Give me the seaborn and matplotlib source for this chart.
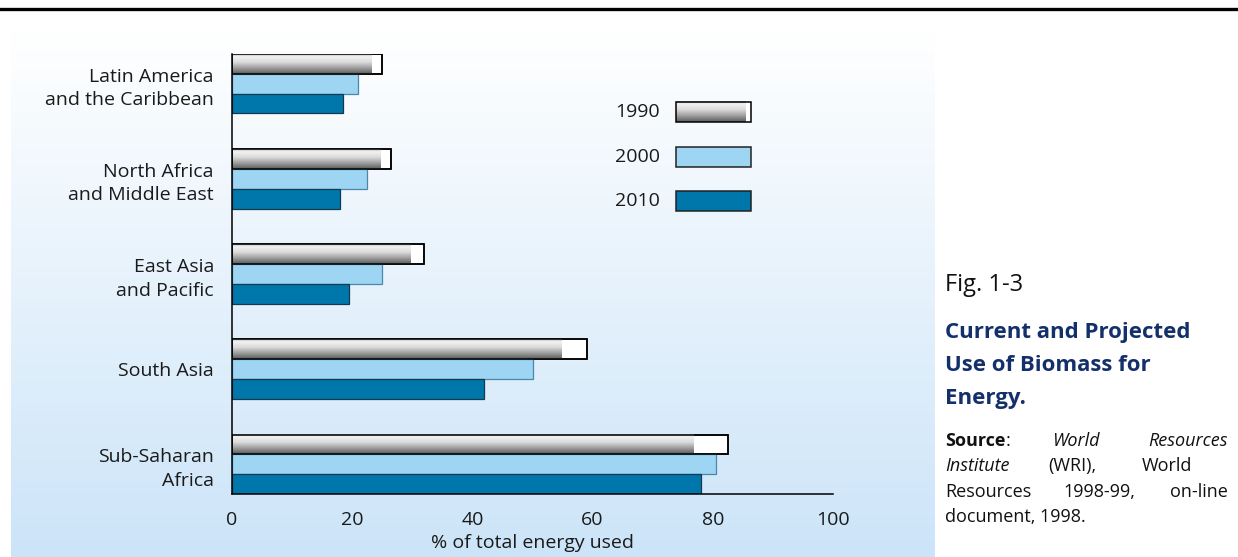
import numpy as np
import pandas as pd
import matplotlib
matplotlib.use("Agg")
import matplotlib.pyplot as plt
from matplotlib.patches import Rectangle
from matplotlib.lines import Line2D
import seaborn as sns

# Share of total energy supplied by biomass, by region and year (%)
regions = [
    "Latin America\nand the Caribbean",
    "North Africa\nand Middle East",
    "East Asia\nand Pacific",
    "South Asia",
    "Sub-Saharan\nAfrica",
]
years = ["1990", "2000", "2010"]
share_1990 = [25, 26.5, 32, 59, 82.5]
share_2000 = [21, 22.5, 25, 50, 80.5]
share_2010 = [18.5, 18, 19.5, 42, 78]
x_ticks = [0, 20, 40, 60, 80, 100]
x_label = "% of total energy used"

fig_label = "Fig. 1-3"
title_lines = ["Current and Projected", "Use of Biomass for", "Energy."]

df = pd.DataFrame({
    "region": regions * 3,
    "year": [y for y in years for _ in regions],
    "share": share_1990 + share_2000 + share_2010,
})

sns.set_theme(style="white")
plt.rcParams["font.family"] = ["Open Sans", "DejaVu Sans"]

W, H = 1238, 557
fig = plt.figure(figsize=(W / 100, H / 100), dpi=100)
fig.patch.set_facecolor("white")

# soft white-to-blue backdrop behind the chart
bg = fig.add_axes([11 / W, 0, 923 / W, 527 / H], zorder=-5)
grad = np.linspace(0, 1, 256)[:, None]
top_c = np.array([1.0, 1.0, 1.0])
bot_c = np.array([0.80, 0.895, 0.975])
bg_img = top_c[None, None, :] * (1 - grad[..., None]) + bot_c[None, None, :] * grad[..., None]
bg.imshow(bg_img, aspect="auto", extent=(0, 1, 0, 1), origin="upper")
bg.set_axis_off()

# heavy rule across the top of the page
fig.add_artist(Line2D([0, 1], [1 - 9 / H, 1 - 9 / H], color="black", lw=2.4,
                      transform=fig.transFigure))

ax = fig.add_axes([232 / W, 1 - 494 / H, 601 / W, 440 / H])
ax.set_facecolor("none")

palette = {"1990": "white", "2000": "#9dd5f2", "2010": "#0077aa"}
sns.barplot(data=df, x="share", y="region", hue="year", hue_order=years,
            order=regions, orient="h", palette=palette, width=0.625,
            gap=0, saturation=1, legend=False, ax=ax, linewidth=1.0)

edge_cols = {"1990": "black", "2000": "#4d86ad", "2010": "#143a52"}
for cont, yr in zip(ax.containers, years):
    for p in cont:
        p.set_edgecolor(edge_cols[yr])
        p.set_linewidth(1.1 if yr == "1990" else 0.9)

# metallic grey shading used for the 1990 bars
stops_t = [0.0, 0.12, 0.4, 0.7, 1.0]
stops_v = [0.72, 0.95, 0.86, 0.62, 0.36]
shade = np.interp(np.linspace(0, 1, 64), stops_t, stops_v)
shade_img = np.repeat(shade[:, None, None], 3, axis=2)

for p in ax.containers[0]:
    x0, y0 = p.get_x(), p.get_y()
    w, h = p.get_width(), p.get_height()
    ax.imshow(shade_img, aspect="auto", origin="upper",
              extent=(x0, x0 + w * 0.93, y0 + h, y0), zorder=p.get_zorder() + 0.1,
              interpolation="bilinear")
    ax.add_patch(Rectangle((x0, y0), w, h, fill=False, ec="black", lw=1.1,
                           zorder=p.get_zorder() + 0.2))

ax.set_xlim(0, 100)
ax.set_ylim(len(regions) - 1 + 0.3125, -0.3125)
ax.set_xticks(x_ticks)
ax.set_xticklabels([str(t) for t in x_ticks])
ax.tick_params(axis="both", length=0, labelsize=14, colors="#1a1a1a")
ax.tick_params(axis="x", pad=12)
ax.tick_params(axis="y", pad=13)
for lab in ax.get_yticklabels():
    lab.set_linespacing(1.4)
ax.set_ylabel("")
ax.set_xlabel(x_label, fontsize=14, color="#1a1a1a", labelpad=4)
for side in ["top", "right"]:
    ax.spines[side].set_visible(False)
for side in ["left", "bottom"]:
    ax.spines[side].set_color("black")
    ax.spines[side].set_linewidth(1.1)

# legend: year labels with swatches
leg_y = [0.868, 0.766, 0.666]
sw_x, sw_w, sw_h = 0.739, 0.125, 0.046
for yr, yc in zip(years, leg_y):
    ax.text(sw_x - 0.027, yc, yr, transform=ax.transAxes, ha="right", va="center",
            fontsize=14, color="#1a1a1a")
    if yr == "1990":
        ax.add_patch(Rectangle((sw_x, yc - sw_h / 2), sw_w, sw_h, transform=ax.transAxes,
                               fc="white", ec="none", zorder=3))
        ax.imshow(shade_img, aspect="auto", origin="upper", transform=ax.transAxes,
                  extent=(sw_x, sw_x + sw_w * 0.93, yc - sw_h / 2, yc + sw_h / 2),
                  zorder=3.1, interpolation="bilinear")
        ax.add_patch(Rectangle((sw_x, yc - sw_h / 2), sw_w, sw_h, transform=ax.transAxes,
                               fill=False, ec="black", lw=1.1, zorder=3.2))
    else:
        ax.add_patch(Rectangle((sw_x, yc - sw_h / 2), sw_w, sw_h, transform=ax.transAxes,
                               fc=palette[yr], ec="#222222", lw=1.1, zorder=3))

ax.set_xlim(0, 100)
ax.set_ylim(len(regions) - 1 + 0.3125, -0.3125)

# caption block on the right
def fx(px):
    return px / W

def fy(py):
    return 1 - py / H

navy = "#14306a"
fig.text(fx(945), fy(291), fig_label, fontsize=17, color="#111111", va="baseline")
for i, line in enumerate(title_lines):
    fig.text(fx(945), fy(338 + 33 * i), line, fontsize=16, fontweight="bold",
             color=navy, va="baseline")

src_size = 13
words = [
    # (text, x, baseline, align, weight, style)
    ("Source", 945, 446, "left", "bold", "normal"),
    ("World", 1052, 446, "left", "normal", "italic"),
    ("Resources", 1228, 446, "right", "normal", "italic"),
    ("Institute", 945, 471, "left", "normal", "italic"),
    ("(WRI),", 1048, 471, "left", "normal", "normal"),
    ("World", 1142, 471, "left", "normal", "normal"),
    ("Resources", 945, 497, "left", "normal", "normal"),
    ("1998-99,", 1063, 497, "left", "normal", "normal"),
    ("on-line", 1228, 497, "right", "normal", "normal"),
    ("document, 1998.", 945, 522, "left", "normal", "normal"),
]
for txt, px, py, ha, wt, st in words:
    t = fig.text(fx(px), fy(py), txt, fontsize=src_size, fontweight=wt, fontstyle=st,
                 ha=ha, va="baseline", color="#111111")
    if txt == "Source":
        fig.canvas.draw()
        bb = t.get_window_extent()
        fig.text(bb.x1 / W, fy(py), ":", fontsize=src_size, ha="left", va="baseline",
                 color="#111111")

fig.savefig("out.png", dpi=100)
